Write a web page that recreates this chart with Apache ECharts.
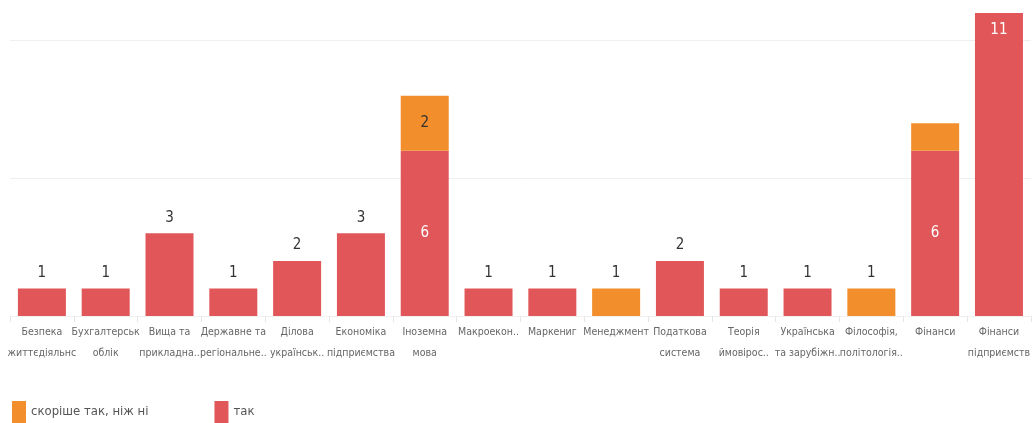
<!DOCTYPE html>
<html><head><meta charset="utf-8">
<script src="https://cdn.jsdelivr.net/npm/echarts@6/dist/echarts.min.js"></script>
<style>html,body{margin:0;padding:0;background:#fff}#c{width:1033px;height:423px}</style>
</head><body><div id="c"></div>
<script>
var categories = ["Безпека\nжиттєдіяльнс","Бухгалтерськ\nоблік","Вища та\nприкладна..","Державне та\nрегіональне..","Ділова\nукраїнськ..","Економіка\nпідприємства","Іноземна\nмова","Макроекон..","Маркениг","Менеджмент","Податкова\nсистема","Теорія\nймовірос..","Українська\nта зарубіжн..","Філософія,\nполітологія..","Фінанси","Фінанси\nпідприємств"];
var seriesNames = ["скоріше так, ніж ні","так"];
var yes = [1,1,3,1,2,3,6,1,1,null,2,1,1,null,6,11];
var ratherYes = [null,null,null,null,null,null,2,null,null,1,null,null,null,1,1,null];

var font = "'DejaVu Sans Condensed','Liberation Sans Narrow','Noto Sans',sans-serif";
function yesItem(v){
  if(v==null) return '-';
  if(v>=10) return {value:v,label:{position:'insideTop',distance:10,color:'#fff'}};
  if(v>=5) return {value:v,label:{position:'inside',color:'#fff'}};
  return {value:v,label:{position:'top',color:'#333'}};
}
function ratherItem(v,i){
  if(v==null) return '-';
  if(yes[i]!=null && v<2) return {value:v,label:{show:false}};
  if(yes[i]!=null) return {value:v,label:{position:'inside',color:'#333'}};
  return {value:v,label:{position:'top',color:'#333'}};
}
var chart = echarts.init(document.getElementById('c'));
chart.setOption({
  animation:false,
  textStyle:{fontFamily:font},
  legend:{left:12,top:401,padding:0,itemWidth:14,itemHeight:22,itemGap:66,icon:'rect',
    textStyle:{fontSize:13,color:'#555',fontFamily:font},
    data:[seriesNames[0],seriesNames[1]]},
  grid:{left:10,right:0,top:13,bottom:107},
  xAxis:{type:'category',data:categories,
    axisLine:{show:false},
    axisTick:{show:true,length:6,lineStyle:{color:'#e6e6e6'}},
    axisLabel:{interval:0,fontSize:10.5,color:'#666',lineHeight:21,margin:6,fontFamily:font}},
  yAxis:{type:'value',min:0,max:11,interval:5,
    axisLabel:{show:false},axisLine:{show:false},axisTick:{show:false},
    splitLine:{showMaxLine:false,lineStyle:{color:'#efefef'}}},
  series:[
    {name:seriesNames[1],type:'bar',stack:'s',barWidth:48,itemStyle:{color:'#E15759'},
     label:{show:true,fontSize:15,distance:8,fontFamily:font},
     data:yes.map(yesItem)},
    {name:seriesNames[0],type:'bar',stack:'s',barWidth:48,itemStyle:{color:'#F28E2B'},
     label:{show:true,fontSize:15,distance:8,fontFamily:font},
     data:ratherYes.map(ratherItem)}
  ]
});
</script></body></html>
